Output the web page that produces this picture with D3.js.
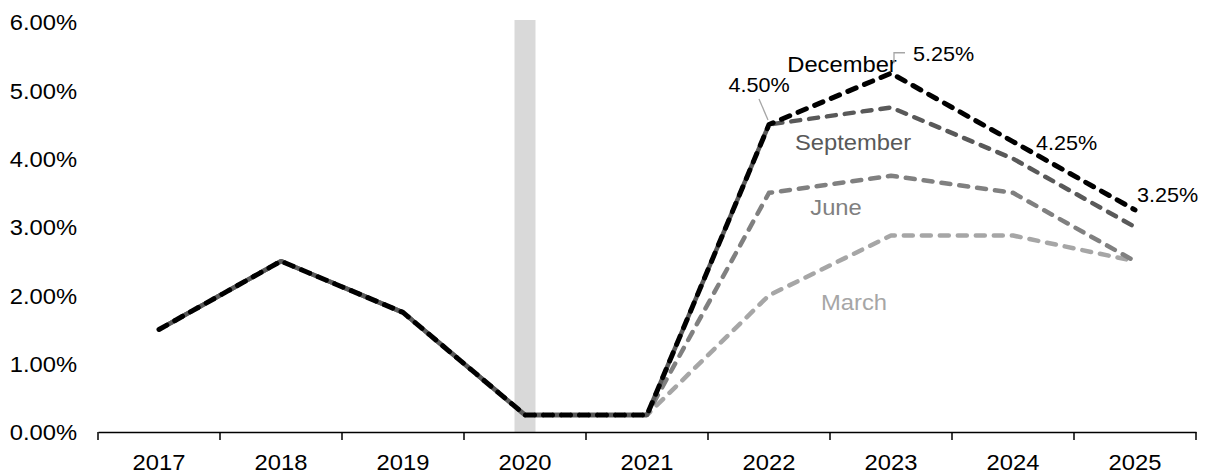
<!DOCTYPE html>
<html>
<head>
<meta charset="utf-8">
<script src="https://cdn.jsdelivr.net/npm/d3@7"></script>
<style>
  html, body { margin: 0; padding: 0; background: #fff; }
  svg { display: block; font-family: "Liberation Sans", Arial, sans-serif; }
</style>
</head>
<body>
<svg id="chart" width="1206" height="476"></svg>
<script>
// Fed funds rate: history through 2021, then the projection paths
const years = ["2017", "2018", "2019", "2020", "2021", "2022", "2023", "2024", "2025"];
const march     = [1.5, 2.5, 1.75, 0.25, 0.25, 2.0, 2.875, 2.875, 2.5];
const june      = [1.5, 2.5, 1.75, 0.25, 0.25, 3.5, 3.75, 3.5, 2.5];
const september = [1.5, 2.5, 1.75, 0.25, 0.25, 4.5, 4.75, 4.0, 3.0];
const december  = [1.5, 2.5, 1.75, 0.25, 0.25, 4.5, 5.25, 4.25, 3.25];
const yTicks = [0, 1, 2, 3, 4, 5, 6];
const recessionYear = "2020";
const labelledYears = ["2022", "2023", "2024", "2025"];

const svg = d3.select("#chart");
const plotLeft = 98, plotRight = 1196, plotTop = 22, plotBottom = 432;
const stretch = 1.08; // slightly wide lettering

const x = d3.scaleBand().domain(years).range([plotLeft, plotRight]).padding(0);
const y = d3.scaleLinear().domain([0, 6]).range([plotBottom, plotTop]);
const cx = d => x(d) + x.bandwidth() / 2;
const fmt = v => v.toFixed(2) + "%";

// place a text at (px, py) with the wide lettering
function label(g, px, py, txt, size, color, anchor) {
  return g.append("text")
    .attr("transform", `translate(${px},${py}) scale(${stretch},1)`)
    .attr("text-anchor", anchor)
    .attr("font-size", size)
    .attr("fill", color)
    .text(txt);
}

// shaded recession band
svg.append("rect")
  .attr("x", cx(recessionYear) - 10.5)
  .attr("width", 21)
  .attr("y", y(6) - 2)
  .attr("height", y(0) - y(6) + 2)
  .attr("fill", "#d9d9d9");

// y axis labels (no axis line)
const yAxis = d3.axisLeft(y).tickValues(yTicks).tickSize(0).tickPadding(0).tickFormat(fmt);
const gy = svg.append("g").attr("transform", `translate(${plotLeft - 21},0)`).call(yAxis);
gy.select(".domain").remove();
gy.selectAll("text")
  .attr("x", 0).attr("dy", "0.36em")
  .attr("transform", `scale(${stretch},1)`)
  .attr("font-size", 22).attr("fill", "#000")
  .attr("font-family", "Liberation Sans, Arial, sans-serif");

// x axis with tick marks between categories
const xAxis = d3.axisBottom(x).tickSize(0);
const gx = svg.append("g").attr("transform", `translate(0,${plotBottom})`).call(xAxis);
gx.select(".domain").attr("stroke", "#000").attr("stroke-width", 1.5);
gx.selectAll("text")
  .attr("y", 38).attr("dy", 0)
  .attr("transform", `scale(${stretch},1)`)
  .attr("font-size", 22).attr("fill", "#000")
  .attr("font-family", "Liberation Sans, Arial, sans-serif");
const edges = years.map(d => x(d)).concat([x(years[years.length - 1]) + x.bandwidth()]);
gx.selectAll("line.edge").data(edges).enter().append("line")
  .attr("class", "edge")
  .attr("x1", d => d).attr("x2", d => d)
  .attr("y1", 0).attr("y2", 8)
  .attr("stroke", "#000").attr("stroke-width", 1.5);

// projection lines
const line = d3.line().x((d, i) => cx(years[i])).y(d => y(d));
const series = [
  { name: "March", values: march, color: "#a6a6a6", offset: 9 },
  { name: "June", values: june, color: "#808080", offset: 9 },
  { name: "September", values: september, color: "#595959", offset: 9 },
  { name: "December", values: december, color: "#000000", offset: 0 }
];
svg.append("g").selectAll("path").data(series).enter().append("path")
  .attr("d", s => line(s.values))
  .attr("fill", "none")
  .attr("stroke", s => s.color)
  .attr("stroke-width", s => s.name === "December" ? 5 : 4.5)
  .attr("stroke-dasharray", "9,9")
  .attr("stroke-dashoffset", s => s.offset)
  .attr("stroke-linecap", "round")
  .attr("stroke-linejoin", "round");

// series names
const names = svg.append("g");
const nameLabels = [
  { text: "December", color: "#000000", dx: 73, ty: 72 },
  { text: "September", color: "#595959", dx: 84, ty: 150 },
  { text: "June", color: "#808080", dx: 67, ty: 215 },
  { text: "March", color: "#a6a6a6", dx: 85, ty: 310 }
];
nameLabels.forEach(d => label(names, cx("2022") + d.dx, d.ty, d.text, 22, d.color, "middle"));

// December value labels
const values = svg.append("g");
const valPos = [
  { dx: -10, dy: -32.5, anchor: "middle" },
  { dx: 22, dy: -12, anchor: "start" },
  { dx: 23, dy: 8, anchor: "start" },
  { dx: 2, dy: -8, anchor: "start" }
];
labelledYears.forEach((yr, i) => {
  const v = december[years.indexOf(yr)];
  label(values, cx(yr) + valPos[i].dx, y(v) + valPos[i].dy, fmt(v), 20, "#000", valPos[i].anchor);
});

// leader lines for the two labels set away from their points
const p22 = [cx("2022"), y(december[years.indexOf("2022")])];
const p23 = [cx("2023"), y(december[years.indexOf("2023")])];
svg.append("path")
  .attr("d", `M${p22[0] - 10},${p22[1] - 25.5}L${p22[0] - 1},${p22[1] - 4.5}`)
  .attr("stroke", "#a6a6a6").attr("stroke-width", 1.3).attr("fill", "none");
svg.append("path")
  .attr("d", `M${p23[0] + 3},${p23[1] - 10}V${p23[1] - 20.5}H${p23[0] + 14}`)
  .attr("stroke", "#a6a6a6").attr("stroke-width", 1.3).attr("fill", "none");
</script>
</body>
</html>
